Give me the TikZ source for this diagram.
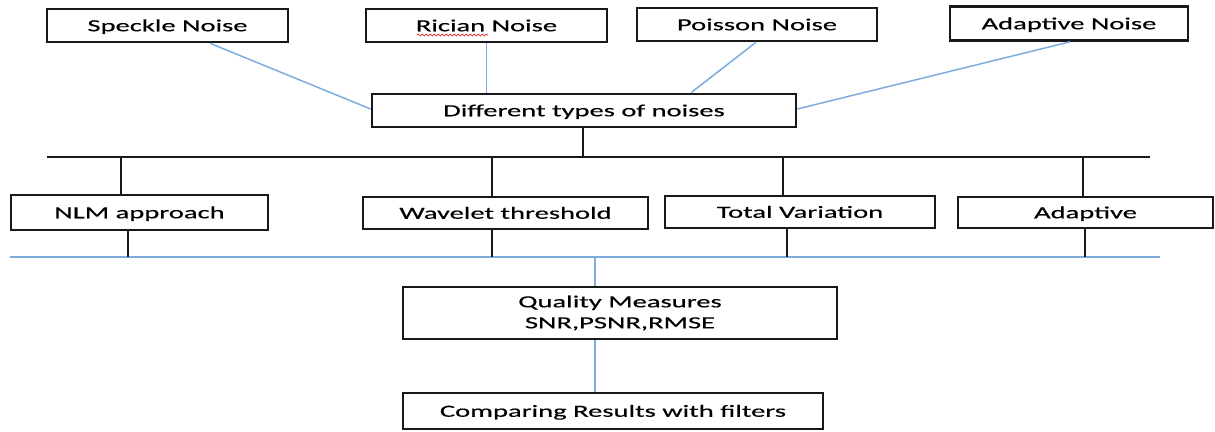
\documentclass[tikz,border=0pt]{standalone}
\usepackage{fontspec}
\setmainfont{Carlito}[FakeStretch=1.68,FakeBold=0.4]
\usetikzlibrary{calc,decorations.pathmorphing}
\definecolor{linkblue}{RGB}{125,172,222}
\definecolor{boxline}{RGB}{25,25,25}
\definecolor{spellred}{RGB}{220,40,40}
\begin{document}
\begin{tikzpicture}[x=1pt,y=-1pt,
  box/.style={draw=boxline, line width=2.6pt, inner sep=0pt, align=center,
    font=\fontsize{17}{21}\selectfont, text height=11.5pt, text depth=0pt},
  mbox/.style={draw=boxline, line width=2.6pt, inner sep=0pt, align=center,
    font=\fontsize{17}{21}\selectfont},
  blueline/.style={draw=linkblue, line width=1.5pt},
  darkline/.style={draw=boxline, line width=2pt}]
\useasboundingbox (0,0) rectangle (1215,431);
% top row
\node[box, minimum width=241pt, minimum height=33pt] (speckle) at (167.5,25.5) {Speckle Noise};
\node[box, minimum width=241pt, minimum height=33pt] (rician) at (486.5,25.5) {Rician Noise};
\node[box, minimum width=240pt, minimum height=33pt] (poisson) at (757,24.5) {Poisson Noise};
\node[box, minimum width=238pt, minimum height=34pt] (adnoise) at (1069,23.5) {Adaptive Noise};
\node[box, minimum width=424pt, minimum height=33pt] (types) at (584,110.5) {Different types of noises};
% middle row
\node[box, minimum width=257pt, minimum height=35pt] (nlm) at (139.5,212.5) {NLM approach};
\node[box, minimum width=285pt, minimum height=32pt] (wavelet) at (505.5,213) {Wavelet threshold};
\node[box, minimum width=270pt, minimum height=32pt] (tv) at (800,212) {Total Variation};
\node[box, minimum width=255pt, minimum height=31pt] (adapt) at (1085.5,212.5) {Adaptive};
% bottom
\node[mbox, minimum width=434pt, minimum height=52pt] (quality) at (620,313) {Quality Measures\\SNR,PSNR,RMSE};
\node[box, minimum width=420pt, minimum height=36pt] (compare) at (613,411) {Comparing Results with filters};
% spell-check underline
\draw[spellred, line width=0.7pt, decorate, decoration={snake, segment length=4pt, amplitude=1pt}]
  ([xshift=-69.5pt,yshift=-9.5pt]rician.center) -- ([xshift=1.5pt,yshift=-9.5pt]rician.center);
% blue links to noise types
\draw[blueline] ([xshift=42.5pt]speckle.south) -- ([yshift=1.5pt]types.west);
\draw[blueline] (rician.south) -- (rician.south |- types.north);
\draw[blueline] ([xshift=-1pt]poisson.south) -- ([xshift=107pt]types.north);
\draw[blueline] ([xshift=1pt]adnoise.south) -- ([yshift=1.5pt]types.east);
% black bus
\coordinate (busL) at (47,157);
\coordinate (busR) at (1150,157);
\draw[darkline] (busL) -- (busR);
\draw[draw=boxline, line width=2.8pt] ([xshift=-1pt]types.south) -- ([xshift=-1pt]types.south |- busL);
\draw[darkline] ([xshift=-18.5pt]nlm.north) -- ([xshift=-18.5pt]nlm.north |- busL);
\draw[darkline] ([xshift=-13.5pt]wavelet.north) -- ([xshift=-13.5pt]wavelet.north |- busL);
\draw[darkline] ([xshift=-17pt]tv.north) -- ([xshift=-17pt]tv.north |- busL);
\draw[darkline] ([xshift=-2.5pt]adapt.north) -- ([xshift=-2.5pt]adapt.north |- busL);
% blue bus
\coordinate (bbL) at (10,257);
\coordinate (bbR) at (1160,257);
\draw[blueline] (bbL) -- (bbR);
\draw[darkline] ([xshift=-11.5pt]nlm.south) -- ([xshift=-11.5pt]nlm.south |- bbL);
\draw[darkline] ([xshift=-13.5pt]wavelet.south) -- ([xshift=-13.5pt]wavelet.south |- bbL);
\draw[darkline] ([xshift=-13pt]tv.south) -- ([xshift=-13pt]tv.south |- bbL);
\draw[darkline] ([xshift=-0.5pt]adapt.south) -- ([xshift=-0.5pt]adapt.south |- bbL);
% down to results
\draw[blueline] ([xshift=-25pt]quality.north |- bbL) -- ([xshift=-25pt]quality.north);
\draw[blueline] ([xshift=-25pt]quality.south) -- ([xshift=-25pt]quality.south |- compare.north);
\end{tikzpicture}
\end{document}
